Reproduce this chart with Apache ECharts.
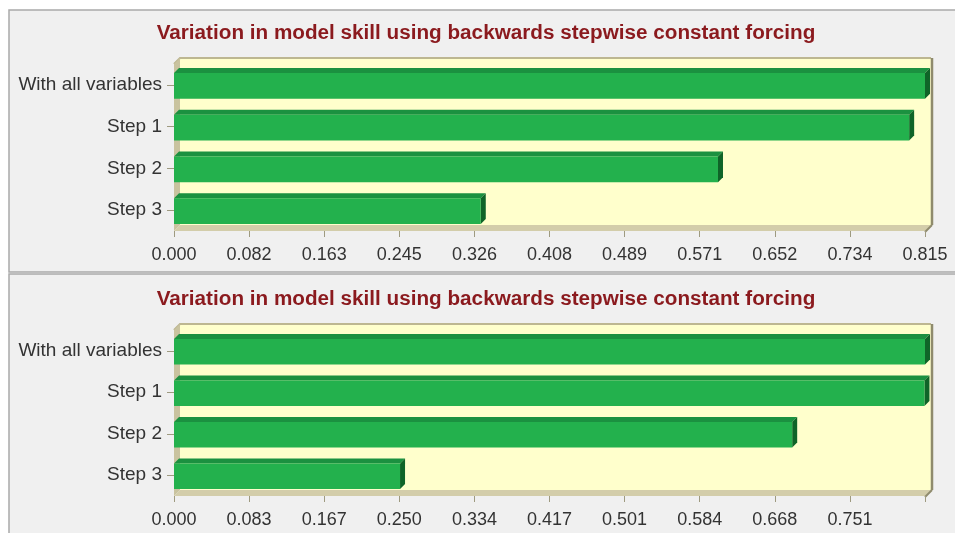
<!DOCTYPE html>
<html>
<head>
<meta charset="utf-8">
<script src="https://cdn.jsdelivr.net/npm/echarts@6/dist/echarts.min.js"></script>
<style>
  html, body { margin: 0; padding: 0; background: #fff; }
  #chart { width: 955px; height: 533px; }
</style>
</head>
<body>
<div id="chart"></div>
<script>
// data
const categories = ['With all variables', 'Step 1', 'Step 2', 'Step 3'];
const skillTop = [0.8152, 0.798, 0.5905, 0.333];
const skillBottom = [0.8346, 0.834, 0.687, 0.2512];
const ticksTop = ['0.000', '0.082', '0.163', '0.245', '0.326', '0.408', '0.489', '0.571', '0.652', '0.734', '0.815'];
const ticksBottom = ['0.000', '0.083', '0.167', '0.250', '0.334', '0.417', '0.501', '0.584', '0.668', '0.751', ''];
const maxTop = 0.8152;
const maxBottom = 0.8346;

const titleText = 'Variation in model skill using backwards stepwise constant forcing';

// layout
const gLeft = 174, gWidth = 751, depth = 6;
const panels = [
    { top: 64, height: 167, boxY: 10, boxH: 262, titleTop: 23 },
    { top: 330, height: 166, boxY: 274, boxH: 270, titleTop: 289 }
];

const chart = echarts.init(document.getElementById('chart'));

const renderBar = (params, api) => {
    const val = api.value(0);
    const cat = api.value(1);
    const p0 = api.coord([0, cat]);
    const p1 = api.coord([val, cat]);
    const bh = api.size([0, 1])[1] * 0.62;
    const x0 = p0[0], x1 = p1[0];
    const yT = p0[1] - bh / 2 + 1, yB = p0[1] + bh / 2 + 1;
    const d = 5;
    return {
        type: 'group',
        children: [
            { type: 'polygon', shape: { points: [[x0, yT], [x1, yT], [x1 + d, yT - d], [x0 + d, yT - d]] },
              style: { fill: '#1b9140' } },
            { type: 'polygon', shape: { points: [[x1, yT], [x1 + d, yT - d], [x1 + d, yB - d], [x1, yB]] },
              style: { fill: '#0f6428' } },
            { type: 'rect', shape: { x: x0, y: yT, width: x1 - x0, height: yB - yT },
              style: { fill: '#23b14d' } }
        ]
    };
};

const walls = (p) => {
    const t = p.top, b = p.top + p.height;
    const r = gLeft + gWidth;
    return [
        { type: 'rect', shape: { x: 9, y: p.boxY, width: 960, height: p.boxH },
          style: { fill: '#f0f0f0', stroke: '#a9a9a9', lineWidth: 1.5 }, z: -10 },
        { type: 'rect', shape: { x: gLeft + depth, y: t - depth, width: gWidth, height: p.height },
          style: { fill: '#ffffcc' }, z: -5 },
        { type: 'polyline', shape: { points: [[gLeft, t], [gLeft + depth, t - depth], [r + depth, t - depth]] },
          style: { stroke: '#bdb791', lineWidth: 2, fill: null }, z: -4 },
        { type: 'polygon', shape: { points: [[gLeft, t], [gLeft + depth, t - depth], [gLeft + depth, b - depth], [gLeft, b]] },
          style: { fill: '#c9c39f' }, z: -4 },
        { type: 'polygon', shape: { points: [[gLeft, b], [r, b], [r + depth, b - depth], [gLeft + depth, b - depth]] },
          style: { fill: '#d3cdaa' }, z: -4 },
        { type: 'line', shape: { x1: r + depth + 1, y1: t - depth, x2: r + depth + 1, y2: b - depth },
          style: { stroke: '#8f8b6c', lineWidth: 2.5 }, z: -3 },
        { type: 'line', shape: { x1: r + depth + 1, y1: b - depth, x2: r, y2: b + 1 },
          style: { stroke: '#8f8b6c', lineWidth: 2 }, z: -3 }
    ];
};

const tickFmt = (labels, max) => (v) => labels[Math.round(v / (max / 10))] || '';

const fontFamily = 'Arial, "Liberation Sans", sans-serif';

chart.setOption({
    backgroundColor: '#fff',
    animation: false,
    title: panels.map((p) => ({
        text: titleText,
        left: 486,
        top: p.titleTop,
        textAlign: 'center',
        padding: 0,
        textStyle: { color: '#8b1a1e', fontSize: 20.7, fontWeight: 'bold', fontFamily: fontFamily }
    })),
    graphic: walls(panels[0]).concat(walls(panels[1])),
    grid: panels.map((p) => ({ left: gLeft, top: p.top, width: gWidth, height: p.height })),
    xAxis: [
        { gridIndex: 0, type: 'value', min: 0, max: maxTop, interval: maxTop / 10 },
        { gridIndex: 1, type: 'value', min: 0, max: maxBottom, interval: maxBottom / 10 }
    ].map((a, i) => Object.assign(a, {
        axisLine: { show: false },
        axisTick: { show: true, length: 6, lineStyle: { color: '#9e9a80' } },
        splitLine: { show: false },
        axisLabel: {
            margin: 15,
            color: '#333',
            fontSize: 18,
            fontFamily: fontFamily,
            formatter: tickFmt(i ? ticksBottom : ticksTop, i ? maxBottom : maxTop)
        }
    })),
    yAxis: [0, 1].map((i) => ({
        gridIndex: i,
        type: 'category',
        data: categories,
        inverse: true,
        axisLine: { show: false },
        axisTick: { show: true, alignWithLabel: true, length: 7, lineStyle: { color: '#9e9a80' } },
        axisLabel: { margin: 12, color: '#333', fontSize: 19, fontFamily: fontFamily, padding: [5, 0, 0, 0] }
    })),
    series: [skillTop, skillBottom].map((vals, i) => ({
        type: 'custom',
        xAxisIndex: i,
        yAxisIndex: i,
        renderItem: renderBar,
        encode: { x: 0, y: 1 },
        data: vals.map((v, k) => [v, k])
    }))
});
</script>
</body>
</html>
